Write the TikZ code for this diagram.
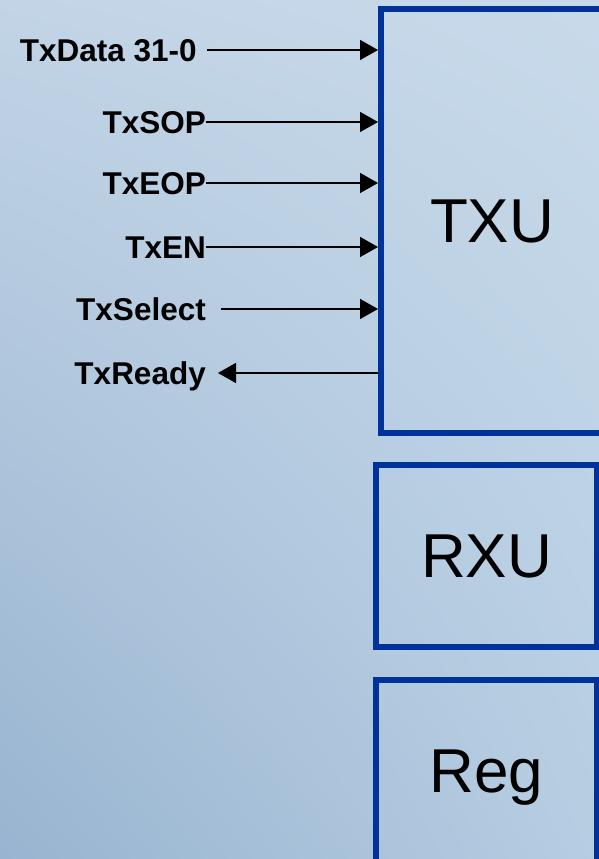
\documentclass[tikz,border=0pt]{standalone}
\usepackage{fontspec}
\setmainfont{Liberation Sans}
\usepackage{xcolor}
\usetikzlibrary{positioning, arrows.meta, shadings}

\definecolor{bgtl}{RGB}{194,212,230}
\definecolor{bgtr}{RGB}{200,218,234}
\definecolor{bgbl}{RGB}{152,180,208}
\definecolor{bgbr}{RGB}{182,205,226}
\definecolor{unitblue}{RGB}{0,51,153}

\begin{document}
\begin{tikzpicture}[
        x=1pt, y=1pt,
        unit/.style={draw=unitblue, line width=6pt, minimum width=221pt, minimum height=182pt, text height=44pt, text depth=0pt, font=\fontsize{62}{62}\selectfont},
        sig/.style={anchor=east, inner sep=0pt, text height=22.6pt, text depth=0pt, font=\fontsize{31.5}{32}\selectfont\bfseries},
        arr/.style={-{Triangle[length=18pt, width=20pt]}, line width=1.5pt},
    ]
    \useasboundingbox (0,0) rectangle (599,859);
    \clip (0,0) rectangle (599,859);

    % Background
    \shade[upper left=bgtl, upper right=bgtr, lower left=bgbl, lower right=bgbr] (0,0) rectangle (599,859);

    % Units
    \node[unit, minimum width=222pt, minimum height=424pt] (txu) at (492,638) {TXU};
    \node[unit, below=26pt of txu, xshift=-5.5pt] (rxu) {RXU};
    \node[unit, below=27pt of rxu] (reg) {Reg};

    % Signal names
    \node[sig] (data) at (197,809) {TxData 31-0};
    \node[sig] (sop) at (206,737) {TxSOP};
    \node[sig] (eop) at (206,676) {TxEOP};
    \node[sig] (en) at (206,612) {TxEN};
    \node[sig] (sel) at (206,550) {TxSelect};
    \node[sig] (rdy) at (206,486) {TxReady};

    % Inputs into TXU
    \draw[arr, shorten <=10pt] (data.east) -- (data.east -| txu.west);
    \draw[arr] (sop.east) -- (sop.east -| txu.west);
    \draw[arr] (eop.east) -- (eop.east -| txu.west);
    \draw[arr] (en.east) -- (en.east -| txu.west);
    \draw[arr, shorten <=15pt] (sel.east) -- (sel.east -| txu.west);

    % Output from TXU
    \draw[arr, shorten >=12pt] (rdy.east -| txu.west) -- (rdy.east);
\end{tikzpicture}
\end{document}
